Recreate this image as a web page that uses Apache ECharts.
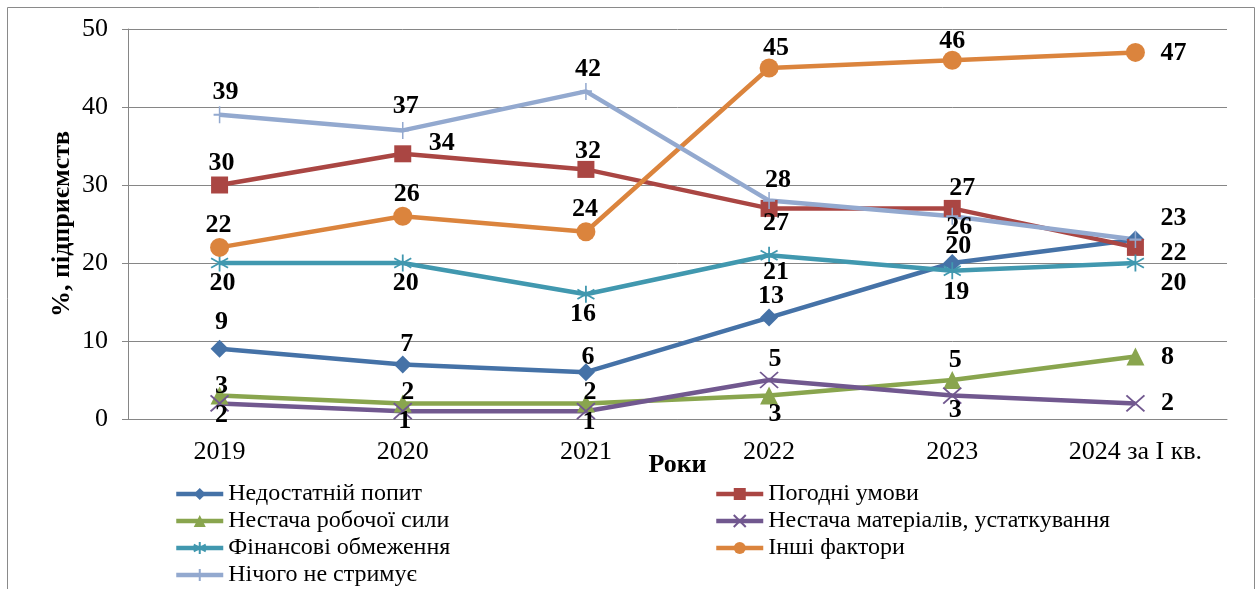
<!DOCTYPE html>
<html>
<head>
<meta charset="utf-8">
<script src="https://cdn.jsdelivr.net/npm/echarts@6/dist/echarts.min.js"></script>
<style>
html,body{margin:0;padding:0;background:#fff;}
#chart{width:1259px;height:589px;}
</style>
</head>
<body>
<div id="chart"></div>
<script>
// ---- data ----
const categories = ['2019', '2020', '2021', '2022', '2023', '2024 за I кв.'];
const demand    = [9, 7, 6, 13, 20, 23];     // Недостатній попит
const weather   = [30, 34, 32, 27, 27, 22];  // Погодні умови
const labour    = [3, 2, 2, 3, 5, 8];        // Нестача робочої сили
const materials = [2, 1, 1, 5, 3, 2];        // Нестача матеріалів, устаткування
const finance   = [20, 20, 16, 21, 19, 20];  // Фінансові обмеження
const other     = [22, 26, 24, 45, 46, 47];  // Інші фактори
const nothing   = [39, 37, 42, 28, 26, 23];  // Нічого не стримує
const yTicks = { min: 0, max: 50, interval: 10 };

// ---- label placement (style only) ----
const offDemand    = [[2,-27],[4,-20],[2,-15],[2,-21],[6,-17],[38,-21]];
const offWeather   = [[2,-22],[39,-11],[2,-18],[7,15],[10,-20],[38,6]];
const offLabour    = [[2,-9],[5,-11],[4,-11],[6,19],[3,-20],[32,1]];
const offMaterials = [[2,12],[2,10],[3,11],[6,-21],[3,15],[32,0]];
const offFinance   = [[3,20],[3,20],[-3,20],[7,17],[4,21],[38,20]];
const offOther     = [[-1,-22],[4,-22],[-1,-23],[7,-20],[0,-19],[38,1]];
const offNothing   = [[6,-23],[3,-24],[2,-22],[9,-20],[7,11],null];

const FONT = 'Liberation Serif';

function mk(vals, offs) {
  return vals.map((v, i) => offs[i] ? { value: v, label: { offset: offs[i] } }
                                    : { value: v, label: { show: false } });
}

const X_PATH = 'path://M0,0L10,10M10,0L0,10';
const STAR_PATH = 'path://M5,0L5,10M0.8,2.2L9.2,7.8M9.2,2.2L0.8,7.8';
const PLUS_PATH = 'path://M5,0L5,10M1.5,5L8.5,5';

function series(name, vals, offs, color, symbol, size, stroke) {
  const s = {
    name: name,
    type: 'line',
    data: mk(vals, offs),
    symbol: symbol,
    symbolSize: size,
    lineStyle: { color: color, width: 4.5 },
    itemStyle: { color: color },
    label: {
      show: true,
      position: 'inside',
      color: '#000',
      fontFamily: FONT,
      fontWeight: 'bold',
      fontSize: 26
    },
    emphasis: { disabled: true },
    animation: false
  };
  if (stroke) {
    s.itemStyle = { color: 'rgba(0,0,0,0)', borderColor: color, borderWidth: 1.8 };
  }
  return s;
}

const chart = echarts.init(document.getElementById('chart'), null, { renderer: 'canvas' });

function legendBox(left, names) {
  return {
    orient: 'vertical',
    left: left,
    top: 482,
    padding: 0,
    height: 120,
    itemWidth: 47,
    itemHeight: 15,
    itemGap: 3,
    lineStyle: { width: 4.5 },
    textStyle: { fontFamily: FONT, fontSize: 24, color: '#000' },
    selectedMode: false,
    data: names
  };
}

chart.setOption({
  animation: false,
  backgroundColor: '#fff',
  textStyle: { fontFamily: FONT },
  graphic: [{
    type: 'rect',
    shape: { x: 7.5, y: 7.5, width: 1247, height: 640 },
    style: { fill: 'none', stroke: '#8a8a8a', lineWidth: 1 },
    silent: true
  }],
  grid: { left: 128, right: 32, top: 29, bottom: 170 },
  legend: [
    legendBox(174, ['Недостатній попит', 'Нестача робочої сили', 'Фінансові обмеження', 'Нічого не стримує']),
    legendBox(714, ['Погодні умови', 'Нестача матеріалів, устаткування', 'Інші фактори'])
  ],
  xAxis: {
    type: 'category',
    data: categories,
    boundaryGap: true,
    name: 'Роки',
    nameLocation: 'middle',
    nameGap: 33,
    nameMoveOverlap: false,
    nameTextStyle: { fontFamily: FONT, fontWeight: 'bold', fontSize: 26, color: '#000' },
    axisLine: { show: true, lineStyle: { color: '#868686', width: 1 } },
    axisTick: { show: false },
    axisLabel: { fontFamily: FONT, fontSize: 26, color: '#000', margin: 20 },
    splitLine: { show: false }
  },
  yAxis: {
    type: 'value',
    min: yTicks.min,
    max: yTicks.max,
    interval: yTicks.interval,
    name: '%, підприємств',
    nameLocation: 'middle',
    nameRotate: 90,
    nameGap: 53,
    nameMoveOverlap: false,
    nameTextStyle: { fontFamily: FONT, fontWeight: 'bold', fontSize: 26, color: '#000' },
    axisLine: { show: true, lineStyle: { color: '#868686', width: 1 } },
    axisTick: { show: true, inside: false, length: 6, lineStyle: { color: '#868686' } },
    axisLabel: { fontFamily: FONT, fontSize: 26, color: '#000', margin: 20 },
    splitLine: { show: true, lineStyle: { color: '#868686', width: 1 } }
  },
  series: [
    series('Недостатній попит', demand, offDemand, '#4572A7', 'diamond', 18),
    series('Погодні умови', weather, offWeather, '#AA4643', 'rect', 17),
    series('Нестача робочої сили', labour, offLabour, '#89A54E', 'triangle', 18),
    series('Нестача матеріалів, устаткування', materials, offMaterials, '#71588F', X_PATH, [18, 16], true),
    series('Фінансові обмеження', finance, offFinance, '#4198AF', STAR_PATH, 17, true),
    series('Інші фактори', other, offOther, '#DB843D', 'circle', 19),
    series('Нічого не стримує', nothing, offNothing, '#93A9CF', PLUS_PATH, [12, 17], true)
  ]
});
</script>
</body>
</html>
